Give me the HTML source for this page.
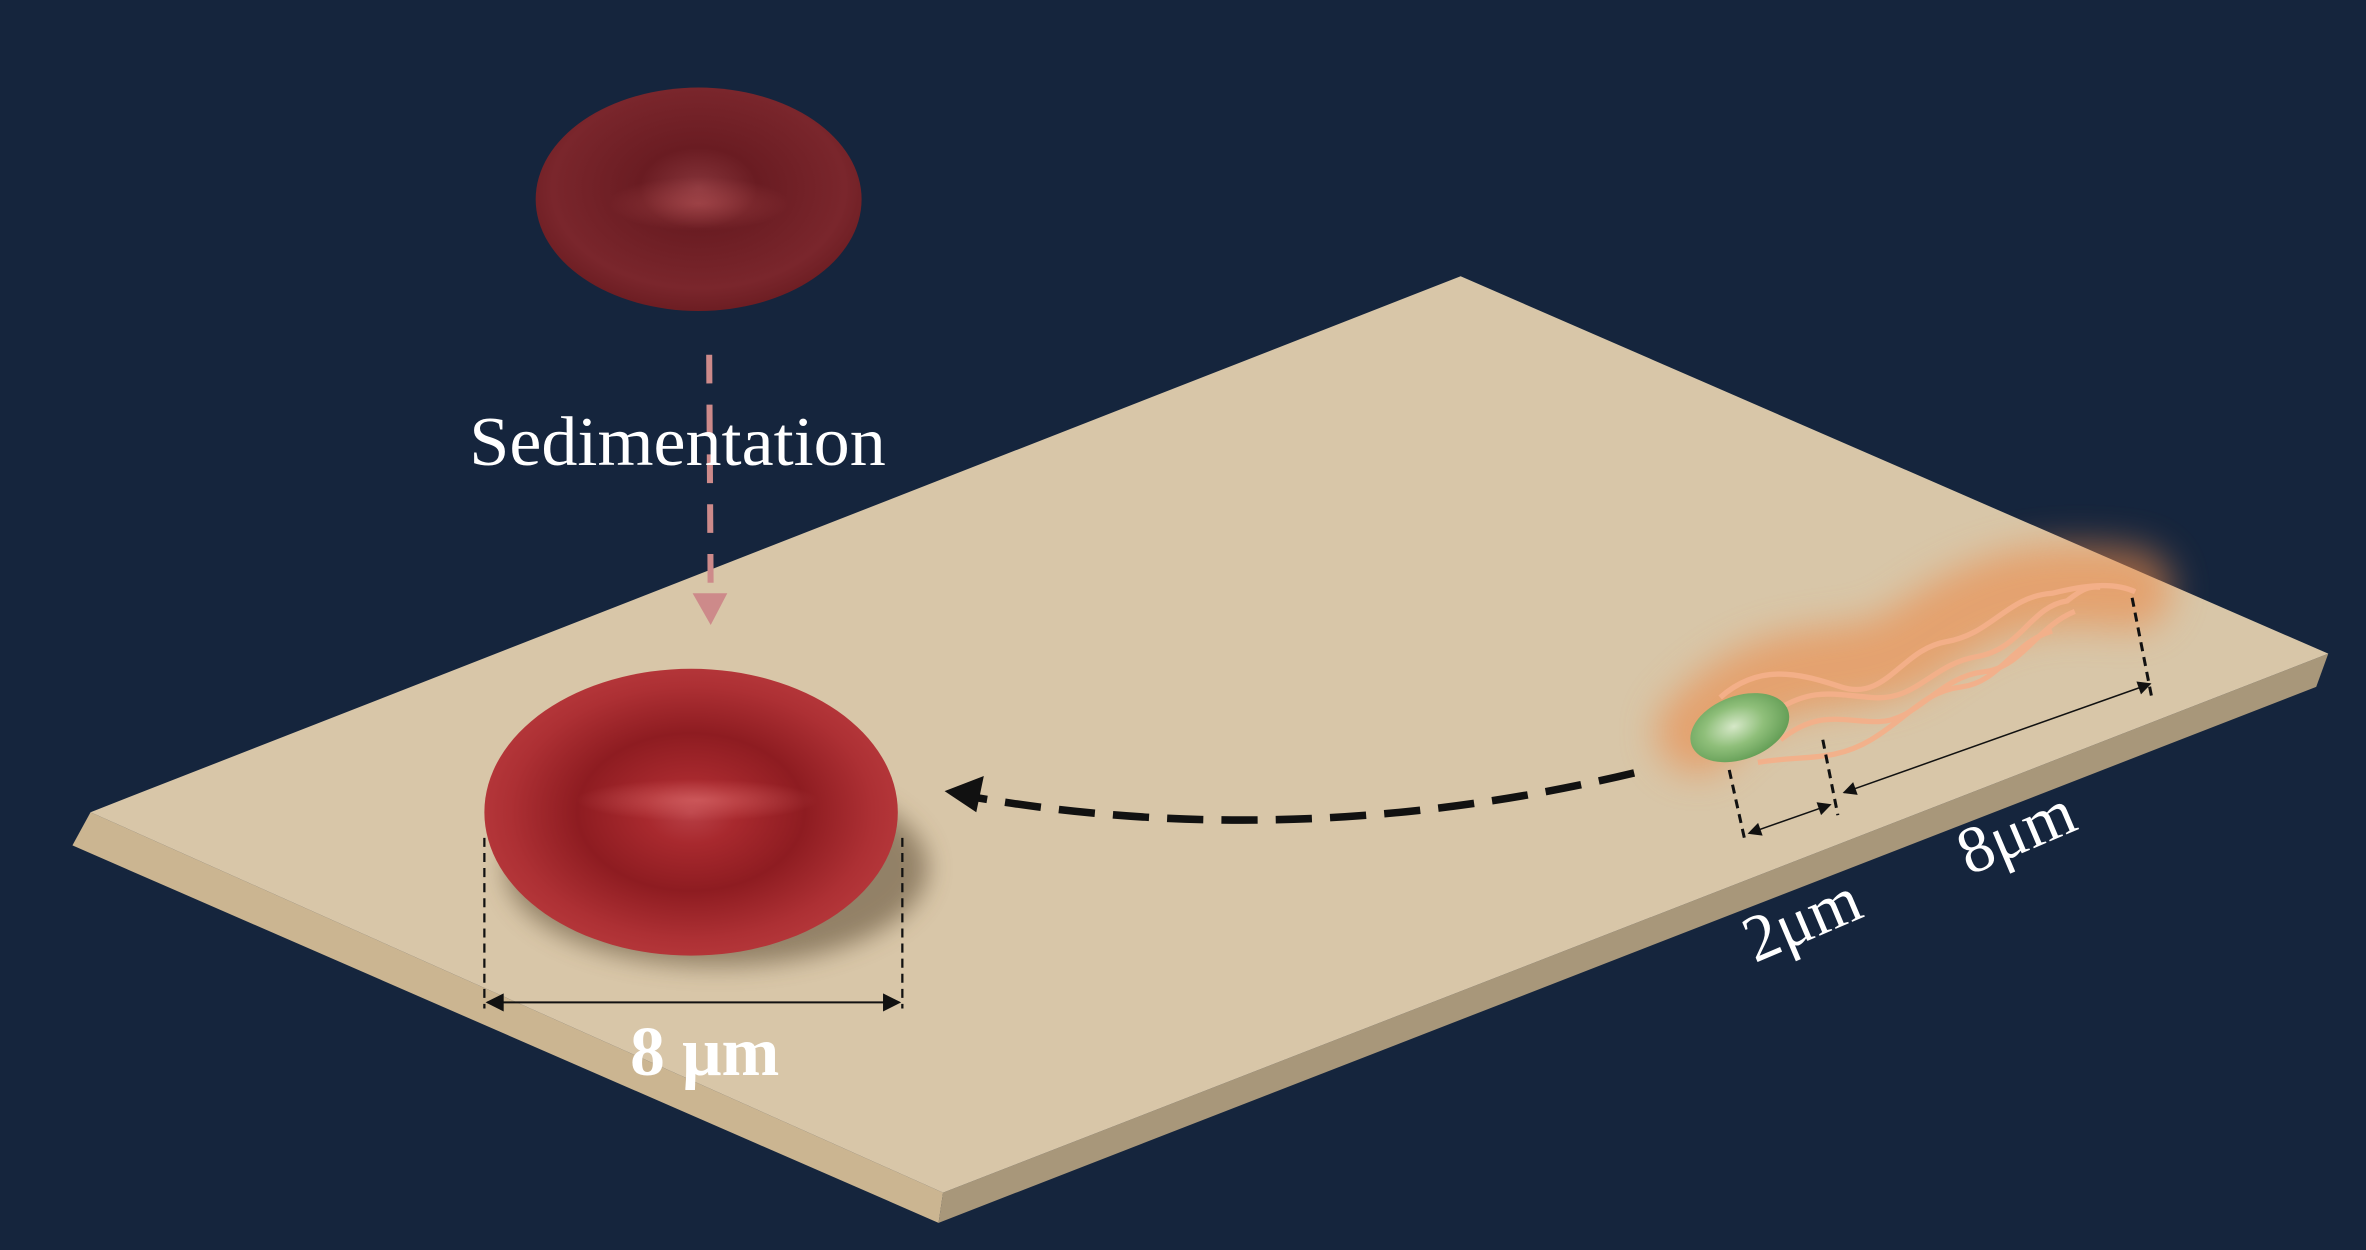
<!DOCTYPE html>
<html><head><meta charset="utf-8">
<style>
html,body{margin:0;padding:0;background:#15253d;}
svg{display:block;}
</style></head>
<body>
<svg width="2366" height="1250" viewBox="0 0 1568 828" preserveAspectRatio="none" xmlns="http://www.w3.org/2000/svg">
<defs>
<radialGradient id="rbcTop" cx="0.5" cy="0.45" r="0.6">
<stop offset="0" stop-color="#86343a"/><stop offset="0.3" stop-color="#6a1c22"/><stop offset="0.75" stop-color="#7a262c"/><stop offset="1" stop-color="#66191e"/>
</radialGradient>
<radialGradient id="rbcBot" cx="0.5" cy="0.5" r="0.55">
<stop offset="0" stop-color="#b84046"/><stop offset="0.2" stop-color="#a8292e"/><stop offset="0.5" stop-color="#8e1c21"/><stop offset="0.8" stop-color="#ad3034"/><stop offset="1" stop-color="#b93a3d"/>
</radialGradient>
<radialGradient id="dimple" cx="0.5" cy="0.5" r="0.5">
<stop offset="0" stop-color="#e07070" stop-opacity="0.55"/><stop offset="1" stop-color="#e07070" stop-opacity="0"/>
</radialGradient>
<radialGradient id="bact" cx="0.45" cy="0.45" r="0.6">
<stop offset="0" stop-color="#d6e8c8"/><stop offset="0.5" stop-color="#8fbf7a"/><stop offset="1" stop-color="#5f9a52"/>
</radialGradient>
<filter id="blur8" x="-50%" y="-50%" width="200%" height="200%"><feGaussianBlur stdDeviation="8"/></filter>
<filter id="glow" filterUnits="userSpaceOnUse" x="950" y="250" width="600" height="400"><feGaussianBlur stdDeviation="12"/></filter>
<marker id="ah" viewBox="0 0 10 10" refX="9" refY="5" markerWidth="11" markerHeight="9" markerUnits="userSpaceOnUse" orient="auto-start-reverse"><path d="M0,0 L10,5 L0,10 z" fill="#111"/></marker>
<marker id="ah2" viewBox="0 0 10 10" refX="9" refY="5" markerWidth="14" markerHeight="12" markerUnits="userSpaceOnUse" orient="auto-start-reverse"><path d="M0,0 L10,5 L0,10 z" fill="#111"/></marker>
</defs>
<rect width="1568" height="828" fill="#15253d"/>

<g>
<polygon points="48,560 622,810 625,790 60,538" fill="#cbb591"/>
<polygon points="625,790 1543,433 1535,455 622,810" fill="#a8977a"/>
<polygon points="60,538 968,183 1543,433 625,790" fill="#d8c6a8"/>
</g>

<g>
<ellipse cx="463" cy="132" rx="108" ry="74" fill="url(#rbcTop)"/>
<ellipse cx="463" cy="135" rx="60" ry="18" fill="url(#dimple)" opacity="0.6"/>
</g>

<g>
<line x1="470" y1="235" x2="471" y2="398" stroke="#cd8a8a" stroke-width="4" stroke-dasharray="19,14"/>
<polygon points="459,393 482,393 471,414" fill="#cd8a8a"/>
</g>
<text x="311" y="308" font-family="Liberation Serif, serif" font-size="46" fill="#fff" textLength="276" lengthAdjust="spacingAndGlyphs">Sedimentation</text>

<g>
<ellipse cx="475" cy="575" rx="140" ry="65" fill="#5a4a30" opacity="0.55" filter="url(#blur8)"/>
<ellipse cx="458" cy="538" rx="137" ry="95" fill="url(#rbcBot)"/>
<ellipse cx="462" cy="530" rx="80" ry="14" fill="url(#dimple)"/>
</g>

<g>
<line x1="321" y1="555" x2="321" y2="668" stroke="#111" stroke-width="1.5" stroke-dasharray="6,4"/>
<line x1="598" y1="555" x2="598" y2="668" stroke="#111" stroke-width="1.5" stroke-dasharray="6,4"/>
<line x1="323" y1="664" x2="596" y2="664" stroke="#111" stroke-width="1.3" marker-start="url(#ah2)" marker-end="url(#ah2)"/>
</g>
<text x="467" y="712" font-family="Liberation Serif, serif" font-weight="bold" font-size="46" fill="#fff" text-anchor="middle">8 μm</text>

<g>
<path d="M1083,512 Q860,565 645,528" fill="none" stroke="#111" stroke-width="5" stroke-dasharray="24,12"/>
<polygon points="626,524 652,514 647,538" fill="#111"/>
</g>

<g>
<path d="M1125,485 C1180,425 1230,455 1270,425 C1310,398 1340,382 1412,390" fill="none" stroke="#ec8a4a" stroke-width="55" stroke-linecap="round" opacity="0.6" filter="url(#glow)"/>
<g fill="none" stroke="#f4b08a" stroke-width="3.5" opacity="0.95">
<path d="M1140,462 C1165,440 1190,445 1220,455 C1250,465 1260,430 1290,425 C1320,420 1330,395 1360,393 C1380,388 1400,385 1415,392"/>
<path d="M1175,472 C1200,455 1215,460 1240,462 C1270,465 1280,440 1310,435 C1340,430 1345,402 1370,398 C1380,390 1385,388 1392,389"/>
<path d="M1180,490 C1205,470 1220,478 1245,478 C1270,478 1285,448 1315,445 C1340,442 1350,415 1375,405"/>
<path d="M1165,505 C1195,500 1215,505 1240,490 C1265,475 1275,458 1300,455 C1325,452 1335,425 1360,418"/>
</g>
<ellipse cx="1153" cy="482" rx="34" ry="21" transform="rotate(-20 1153 482)" fill="url(#bact)"/>
</g>

<g stroke="#111">
<line x1="1146" y1="510" x2="1156" y2="555" stroke-width="2" stroke-dasharray="6,4"/>
<line x1="1208" y1="490" x2="1218" y2="540" stroke-width="2" stroke-dasharray="6,4"/>
<line x1="1413" y1="396" x2="1426" y2="462" stroke-width="2" stroke-dasharray="6,4"/>
<line x1="1159" y1="552" x2="1213" y2="533" stroke-width="1" marker-start="url(#ah)" marker-end="url(#ah)"/>
<line x1="1222" y1="525" x2="1425" y2="453" stroke-width="1" marker-start="url(#ah)" marker-end="url(#ah)"/>
</g>
<text transform="translate(1163,638) rotate(-23)" font-family="Liberation Serif, serif" font-size="44" fill="#fff">2μm</text>
<text transform="translate(1305,580) rotate(-23)" font-family="Liberation Serif, serif" font-size="44" fill="#fff">8μm</text>
</svg>
</body></html>
